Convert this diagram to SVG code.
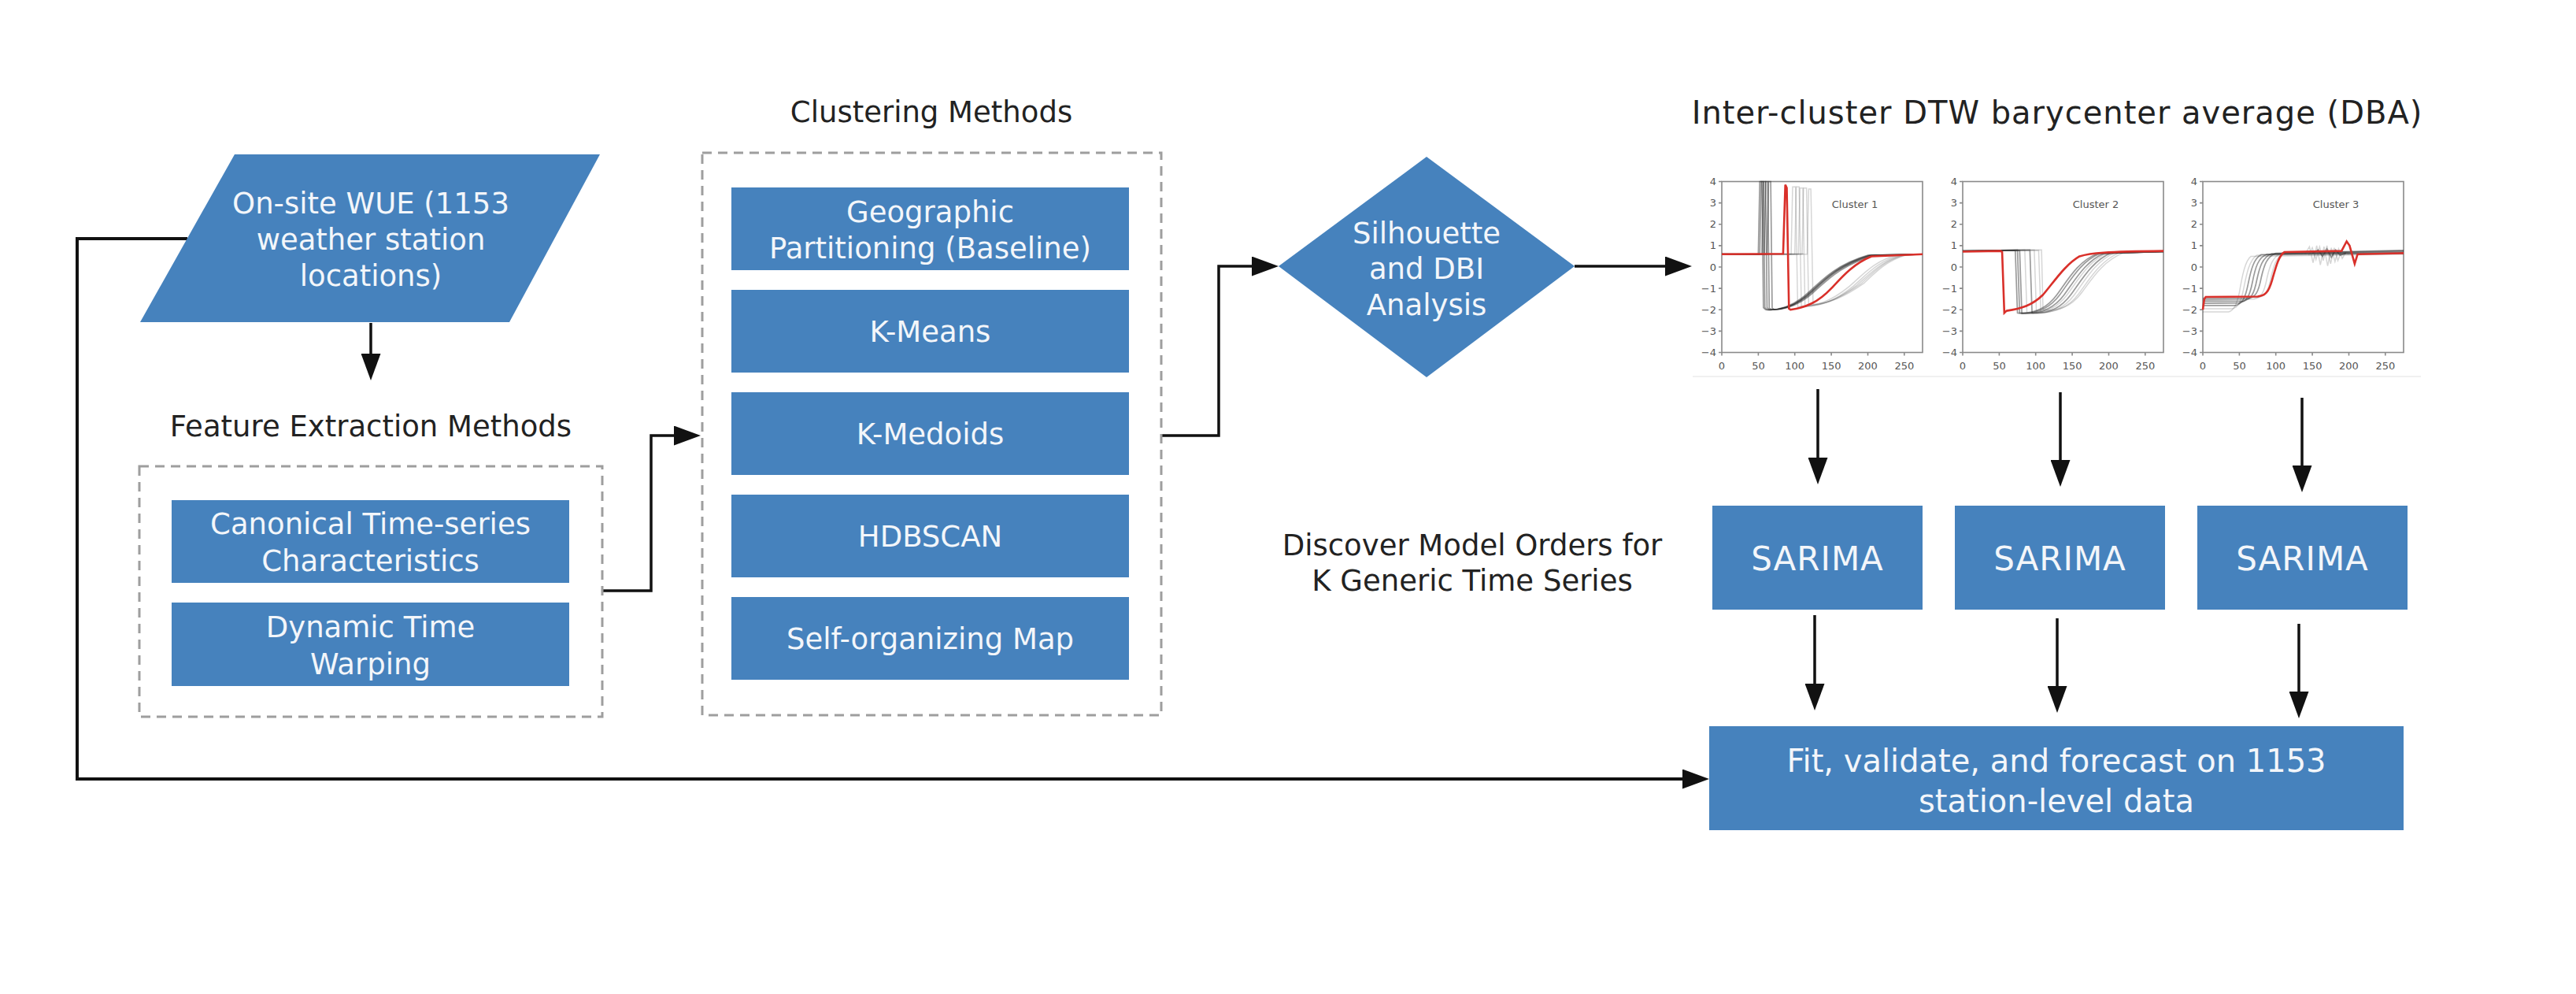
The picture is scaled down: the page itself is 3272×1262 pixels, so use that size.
<svg xmlns="http://www.w3.org/2000/svg" width="3272" height="1262" viewBox="0 0 3272 1262">
<defs>
<style>
.box{fill:#4682bd}
.t{font-family:"DejaVu Sans",sans-serif;font-size:37px;fill:#f3f6fa;text-anchor:middle}
.lbl{font-family:"DejaVu Sans",sans-serif;font-size:37px;fill:#222;text-anchor:middle}
.dash{fill:none;stroke:#9e9e9e;stroke-width:3;stroke-dasharray:12 8}
.conn{fill:none;stroke:#111;stroke-width:3.5;marker-end:url(#ah)}
.ax{fill:none;stroke:#8a8a8a;stroke-width:1.6}
.tky{font-family:"DejaVu Sans",sans-serif;font-size:13px;fill:#555;text-anchor:end}
.tkx{font-family:"DejaVu Sans",sans-serif;font-size:13px;fill:#555;text-anchor:middle}
.g1{fill:none;stroke:#222;stroke-opacity:.45;stroke-width:1.7;vector-effect:non-scaling-stroke}
.g2{fill:none;stroke:#444;stroke-opacity:.22;stroke-width:1.5;vector-effect:non-scaling-stroke}
.red{fill:none;stroke:#d9302a;stroke-width:2.6;vector-effect:non-scaling-stroke}
</style>
<marker id="ah" markerUnits="userSpaceOnUse" markerWidth="34" markerHeight="25" viewBox="0 0 34 25" refX="24" refY="12.5" orient="auto"><path d="M0,0 L34,12.5 L0,25 z" fill="#111"/></marker>
<g id="ticks">
<path class="ax" d="M0,230.5 h-4 M0,257.6 h-4 M0,284.75 h-4 M0,311.9 h-4 M0,339 h-4 M0,366.1 h-4 M0,393.25 h-4 M0,420.4 h-4 M0,447.5 h-4 M0,447.5 v4 M46.4,447.5 v4 M92.7,447.5 v4 M139.1,447.5 v4 M185.5,447.5 v4 M231.8,447.5 v4"/>
<rect class="ax" x="0" y="230.5" width="255" height="217"/>
<text class="tky" x="-7" y="235">4</text>
<text class="tky" x="-7" y="262">3</text>
<text class="tky" x="-7" y="289">2</text>
<text class="tky" x="-7" y="316">1</text>
<text class="tky" x="-7" y="343.5">0</text>
<text class="tky" x="-7" y="370.5">−1</text>
<text class="tky" x="-7" y="397.5">−2</text>
<text class="tky" x="-7" y="425">−3</text>
<text class="tky" x="-7" y="452">−4</text>
<text class="tkx" x="0" y="469">0</text>
<text class="tkx" x="46.4" y="469">50</text>
<text class="tkx" x="92.7" y="469">100</text>
<text class="tkx" x="139.1" y="469">150</text>
<text class="tkx" x="185.5" y="469">200</text>
<text class="tkx" x="231.8" y="469">250</text>
</g>
</defs>
<rect width="3272" height="1262" fill="#ffffff"/>

<g id="connectors">
<path class="conn" d="M471,410 V473"/>
<path class="conn" d="M765,750 H827 V553 H880"/>
<path class="conn" d="M1475,553 H1548 V338 H1614"/>
<path class="conn" d="M2000,338 H2139"/>
<path class="conn" d="M2309,494 V605"/>
<path class="conn" d="M2617,498 V608"/>
<path class="conn" d="M2924,505 V615"/>
<path class="conn" d="M2305,781 V892"/>
<path class="conn" d="M2613,785 V895"/>
<path class="conn" d="M2920,792 V902"/>
<path class="conn" d="M238,303 H98 V989 H2161" style="stroke-width:4"/>
</g>

<g id="input">
<polygon class="box" points="298,196 762,196 647,409 178,409"/>
<text class="t" x="471" y="271">On-site WUE (1153</text>
<text class="t" x="471" y="317">weather station</text>
<text class="t" x="471" y="363">locations)</text>
</g>

<g id="feature-extraction">
<text class="lbl" x="471" y="554">Feature Extraction Methods</text>
<rect class="dash" x="177" y="592" width="588" height="318"/>
<g id="canonical">
<rect class="box" x="218" y="635" width="505" height="105"/>
<text class="t" x="470.5" y="678">Canonical Time-series</text>
<text class="t" x="470.5" y="725">Characteristics</text>
</g>
<g id="dtw">
<rect class="box" x="218" y="765" width="505" height="106"/>
<text class="t" x="470.5" y="809">Dynamic Time</text>
<text class="t" x="470.5" y="856">Warping</text>
</g>
</g>

<g id="clustering">
<text class="lbl" x="1183" y="155">Clustering Methods</text>
<rect class="dash" x="892" y="194" width="583" height="714"/>
<g id="geographic">
<rect class="box" x="929" y="238" width="505" height="105"/>
<text class="t" x="1181.5" y="282">Geographic</text>
<text class="t" x="1181.5" y="328">Partitioning (Baseline)</text>
</g>
<g id="kmeans">
<rect class="box" x="929" y="368" width="505" height="105"/>
<text class="t" x="1181.5" y="434">K-Means</text>
</g>
<g id="kmedoids">
<rect class="box" x="929" y="498" width="505" height="105"/>
<text class="t" x="1181.5" y="564">K-Medoids</text>
</g>
<g id="hdbscan">
<rect class="box" x="929" y="628" width="505" height="105"/>
<text class="t" x="1181.5" y="694">HDBSCAN</text>
</g>
<g id="som">
<rect class="box" x="929" y="758" width="505" height="105"/>
<text class="t" x="1181.5" y="824">Self-organizing Map</text>
</g>
</g>

<g id="silhouette">
<polygon class="box" points="1624,338 1812,199 2000,338 1812,479"/>
<text class="t" x="1812" y="309">Silhouette</text>
<text class="t" x="1812" y="354">and DBI</text>
<text class="t" x="1812" y="400">Analysis</text>
</g>

<g id="dba">
<text class="lbl" x="2613" y="157" style="font-size:40px;letter-spacing:1px">Inter-cluster DTW barycenter average (DBA)</text>
<path d="M2150,478 H3075" stroke="#f0f0f0" stroke-width="2"/>
<g id="chart1" transform="translate(2187,0)">
<use href="#ticks"/>
<text class="tkx" x="169" y="264">Cluster 1</text>
<g transform="translate(0,339) scale(0.9273,-27.125)">
<path class="g2" d="M0,0.6 L95,0.6 L97,3.75 L101,3.75 L104,-1.85 C130,-1.85 150,-1.6 175,-0.9 C195,-0.3 210,0.3 240,0.55 L275,0.6"/>
<path class="g2" d="M0,0.6 L100,0.6 L102,3.75 L106,3.75 L109,-1.85 C135,-1.85 155,-1.6 180,-0.9 C200,-0.3 215,0.3 245,0.55 L275,0.6"/>
<path class="g2" d="M0,0.6 L105,0.6 L107,3.7 L111,3.7 L114,-1.85 C138,-1.8 158,-1.55 185,-0.85 C205,-0.25 220,0.3 248,0.55 L275,0.6"/>
<path class="g2" d="M0,0.6 L110,0.6 L112,3.7 L116,3.7 L119,-1.8 C143,-1.75 163,-1.45 190,-0.8 C208,-0.25 222,0.3 250,0.55 L275,0.6"/>
<path class="g2" d="M0,0.6 L117,0.6 L119,3.65 L122,3.65 L125,-1.75 C148,-1.7 168,-1.4 195,-0.75 C212,-0.2 226,0.3 252,0.55 L275,0.6"/>
<path class="g1" d="M0,0.6 L50,0.6 L52,4 L55,4 L57,-1.9 L60,-2 C80,-2.05 100,-1.8 120,-1.15 C140,-0.5 160,0.15 200,0.55 L275,0.6"/>
<path class="g1" d="M0,0.58 L52,0.6 L54,4 L57,4 L59,-1.9 L62,-2 C82,-2.05 102,-1.8 122,-1.15 C142,-0.5 162,0.15 202,0.55 L275,0.6"/>
<path class="g1" d="M0,0.62 L55,0.6 L57,4 L60,4 L62,-1.9 L65,-2 C85,-2.02 104,-1.78 124,-1.12 C144,-0.48 164,0.15 204,0.55 L275,0.6"/>
<path class="g1" d="M0,0.6 L58,0.6 L60,4 L63,4 L65,-1.92 L68,-2 C88,-2 106,-1.76 126,-1.1 C146,-0.46 166,0.16 206,0.55 L275,0.6"/>
<path class="g1" d="M0,0.6 L62,0.6 L64,4 L67,4 L69,-1.92 L72,-2 C92,-1.98 110,-1.72 130,-1.05 C150,-0.42 170,0.17 210,0.55 L275,0.6"/>
<path class="g2" d="M47,0.62 L112,0.62"/>
<path class="red" d="M0,0.6 L84,0.62 L87,3.85 L89,3.7 L92,-1.95 L94,-2 C115,-1.9 132,-1.65 150,-1.0 C165,-0.45 180,0.15 205,0.5 L275,0.6"/>
</g>
</g>
<g id="chart2" transform="translate(2493,0)">
<use href="#ticks"/>
<text class="tkx" x="169" y="264">Cluster 2</text>
<g transform="translate(0,339) scale(0.9273,-27.125)">
<path class="g1" d="M0,0.75 L72,0.78 L75,-2.15 C94,-2.2 114,-2.0 129,-1.3 C144,-0.6 159,0.3 184,0.62 L275,0.72"/>
<path class="g1" d="M0,0.74 L75,0.8 L78,-2.15 C98,-2.2 118,-2.0 133,-1.3 C148,-0.6 163,0.3 188,0.63 L275,0.72"/>
<path class="g1" d="M0,0.76 L78,0.78 L81,-2.18 L84,-2.18 C104,-2.2 124,-2.0 139,-1.3 C154,-0.6 169,0.3 194,0.64 L275,0.72"/>
<path class="g2" d="M0,0.75 L85,0.8 L88,-2.15 C108,-2.2 128,-2.0 143,-1.3 C158,-0.6 173,0.3 198,0.65 L275,0.72"/>
<path class="g1" d="M0,0.75 L92,0.8 L95,-2.15 C113,-2.2 133,-2.0 148,-1.3 C163,-0.6 178,0.3 203,0.66 L275,0.72"/>
<path class="g2" d="M0,0.75 L98,0.8 L101,-2.15 C118,-2.2 138,-2.0 153,-1.3 C168,-0.6 183,0.3 208,0.66 L275,0.72"/>
<path class="g2" d="M0,0.76 L104,0.78 L107,-2.1 C124,-2.15 144,-1.95 159,-1.25 C174,-0.55 189,0.3 214,0.66 L275,0.72"/>
<path class="g2" d="M0,0.74 L108,0.8 L110,-2.0 C128,-2.1 148,-1.9 163,-1.2 C178,-0.5 193,0.3 220,0.66 L275,0.72"/>
<path class="red" d="M0,0.72 L52,0.75 L54,0.7 L57,-2.15 L60,-2.05 C80,-1.95 95,-1.8 110,-1.3 C125,-0.7 140,0.1 160,0.5 C175,0.65 195,0.72 275,0.75"/>
</g>
</g>
<g id="chart3" transform="translate(2798,0)">
<use href="#ticks"/>
<text class="tkx" x="169" y="264">Cluster 3</text>
<g transform="translate(0,339) scale(0.9273,-27.125)">
<path class="g2" d="M0,-2.1 L35,-2.1 C42,-2.05 46,-1.8 50,-1.2 C54,-0.4 58,0.3 66,0.5 L275,0.6"/>
<path class="g2" d="M0,-1.95 L40,-1.95 C48,-1.9 52,-1.7 56,-1.0 C60,-0.3 64,0.35 74,0.55 L275,0.62"/>
<path class="g1" d="M0,-1.8 L45,-1.8 C54,-1.7 58,-1.5 62,-0.8 C66,-0.1 70,0.4 80,0.58 L275,0.65"/>
<path class="g1" d="M0,-1.7 L50,-1.68 C60,-1.6 64,-1.4 68,-0.7 C72,0.0 76,0.45 88,0.6 L275,0.7"/>
<path class="g1" d="M0,-1.6 L55,-1.6 C66,-1.5 70,-1.3 74,-0.6 C78,0.05 82,0.45 94,0.62 L275,0.75"/>
<path class="g1" d="M0,-1.5 L62,-1.48 C72,-1.42 76,-1.2 80,-0.5 C84,0.1 88,0.5 100,0.64 L275,0.78"/>
<path class="g2" d="M0,-1.55 L70,-1.5 C80,-1.45 84,-1.2 88,-0.5 C92,0.1 96,0.5 108,0.65 L275,0.7"/>
<path class="g2" d="M0,-1.45 L76,-1.42 C86,-1.38 90,-1.1 94,-0.4 C98,0.2 102,0.55 114,0.65 L275,0.62"/>
<path class="g2" d="M140,0.6 L146,0.95 L151,0.2 L156,1.0 L161,0.1 L166,0.95 L171,0.05 L176,0.9 L181,0.25 L186,0.85 L191,0.4 L196,0.7 L205,0.6"/>
<path class="g2" d="M145,0.55 L150,0.9 L155,0.35 L160,0.95 L165,0.3 L170,1.0 L175,0.15 L180,0.9 L185,0.3 L190,0.75 L200,0.6"/>
<path class="g1" d="M150,0.65 L158,0.8 L164,0.5 L170,0.85 L176,0.45 L182,0.8 L188,0.55 L196,0.65"/>
<path class="red" d="M0,-2.0 L2,-1.5 L4,-1.4 L75,-1.38 C85,-1.35 90,-1.2 95,-0.6 C100,0.0 104,0.55 112,0.7 L190,0.75 L197,1.2 L201,1.0 L208,0.15 L212,0.6 L275,0.65"/>
</g>
</g>
</g>

<g id="discover-label">
<text class="lbl" x="1870" y="705">Discover Model Orders for</text>
<text class="lbl" x="1870" y="750">K Generic Time Series</text>
</g>

<g id="sarima1">
<rect class="box" x="2175" y="642" width="267" height="132"/>
<text class="t" x="2308.5" y="724" style="font-size:42px;letter-spacing:1px">SARIMA</text>
</g>
<g id="sarima2">
<rect class="box" x="2483" y="642" width="267" height="132"/>
<text class="t" x="2616.5" y="724" style="font-size:42px;letter-spacing:1px">SARIMA</text>
</g>
<g id="sarima3">
<rect class="box" x="2791" y="642" width="267" height="132"/>
<text class="t" x="2924.5" y="724" style="font-size:42px;letter-spacing:1px">SARIMA</text>
</g>

<g id="forecast">
<rect class="box" x="2171" y="922" width="882" height="132"/>
<text class="t" x="2612" y="980" style="font-size:40px">Fit, validate, and forecast on 1153</text>
<text class="t" x="2612" y="1031" style="font-size:40px">station-level data</text>
</g>
</svg>
